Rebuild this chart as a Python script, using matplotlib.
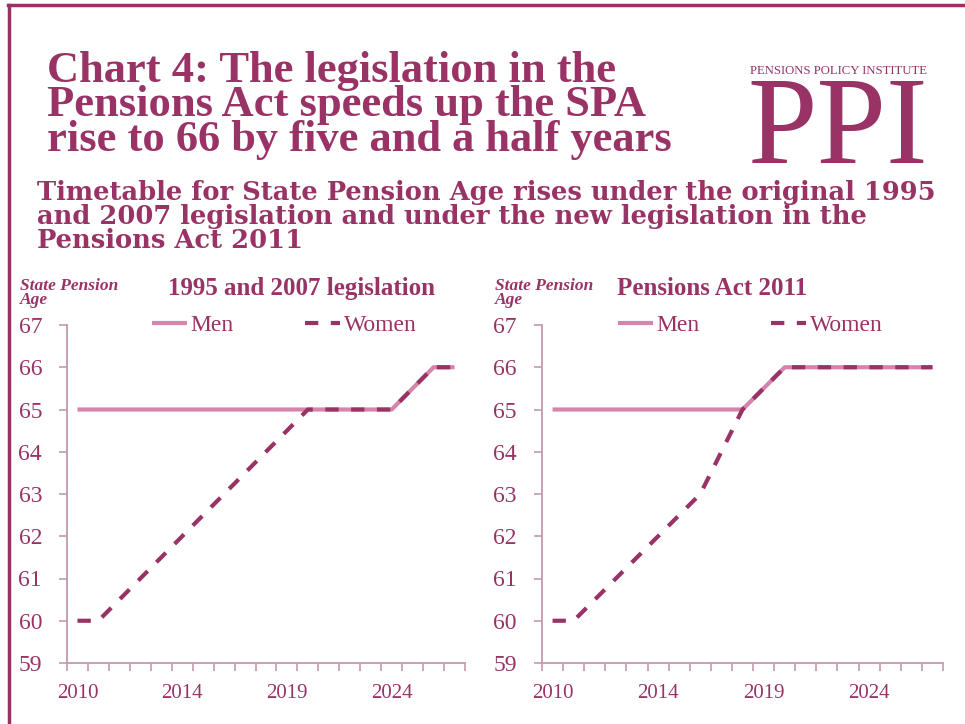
import numpy as np
import matplotlib
matplotlib.use("Agg")
import matplotlib.pyplot as plt
from matplotlib.lines import Line2D

# category axis (Excel-style line chart, 19 points, label every 5th)
x_labels = ['2010', '', '', '', '', '2014', '', '', '', '', '2019', '', '', '', '', '2024', '', '', '']

# 1995 and 2007 legislation
old_men = [65, 65, 65, 65, 65, 65, 65, 65, 65, 65, 65, 65, 65, 65, 65, 65, 65.5, 66, 66]
old_women = [60, 60, 60.5, 61, 61.5, 62, 62.5, 63, 63.5, 64, 64.5, 65, 65, 65, 65, 65, 65.5, 66, 66]

# Pensions Act 2011
new_men = [65, 65, 65, 65, 65, 65, 65, 65, 65, 65, 65.5, 66, 66, 66, 66, 66, 66, 66, 66]
new_women = [60, 60, 60.5, 61, 61.5, 62, 62.5, 63, 64, 65, 65.5, 66, 66, 66, 66, 66, 66, 66, 66]

panel_titles = ['1995 and 2007 legislation', 'Pensions Act 2011']
y_ticks = [59, 60, 61, 62, 63, 64, 65, 66, 67]

MAROON = '#993366'
PINK = '#D684AC'
AXIS = '#C29AAE'
SERIF = 'Liberation Serif'

fig = plt.figure(figsize=(9.65, 7.24), dpi=100)
W, H = 965.0, 724.0

# frame lines (top and left)
fig.add_artist(Line2D([8 / W, 1], [1 - 5 / H, 1 - 5 / H], color=MAROON, lw=2.5))
fig.add_artist(Line2D([9 / W, 9 / W], [0, 1 - 5 / H], color=MAROON, lw=2.5))

title = ('Chart 4: The legislation in the\n'
         'Pensions Act speeds up the SPA\n'
         'rise to 66 by five and a half years')
fig.text(47 / W, 1 - 151 / H, title, fontsize=32, fontweight='bold', family=SERIF,
         color=MAROON, va='baseline', ha='left', linespacing=0.83)

subtitle = ('Timetable for State Pension Age rises under the original 1995\n'
            'and 2007 legislation and under the new legislation in the\n'
            'Pensions Act 2011')
fig.text(37 / W, 1 - 248 / H, subtitle, fontsize=18.5, fontweight='bold',
         family='DejaVu Serif', color=MAROON, va='baseline', ha='left', linespacing=0.94)

# PPI logo
fig.text(838 / W, 1 - 74 / H, 'PENSIONS POLICY INSTITUTE', fontsize=9.2, family=SERIF,
         color=MAROON, ha='center', va='baseline')
fig.text(838 / W, 1 - 163 / H, 'PPI', fontsize=90, family=SERIF,
         color=MAROON, ha='center', va='baseline')

panels = [
    (67, 465, old_men, old_women, panel_titles[0], 301, 20, 284),
    (542, 943, new_men, new_women, panel_titles[1], 712, 495, 750),
]

for left, right, men, women, ptitle, tx, ylx, legx in panels:
    ax = fig.add_axes([left / W, 1 - 663 / H, (right - left) / W, (663 - 325) / H])
    x = np.arange(len(x_labels))
    ax.plot(x, men, color=PINK, lw=3, label='Men', solid_capstyle='butt')
    ax.plot(x, women, color=MAROON, lw=3, label='Women', dashes=(3.2, 3.0),
            dash_capstyle='butt')
    ax.set_xlim(-0.5, len(x_labels) - 0.5)
    ax.set_ylim(59, 67)
    ax.set_yticks(y_ticks)
    ax.set_xticks(np.arange(len(x_labels) + 1) - 0.5, labels=[])
    ax.set_xticks(x, x_labels, minor=True)
    for s in ['top', 'right']:
        ax.spines[s].set_visible(False)
    for s in ['left', 'bottom']:
        ax.spines[s].set_color(AXIS)
        ax.spines[s].set_linewidth(1.3)
    ax.tick_params(axis='y', colors=AXIS, length=6, width=1.2, pad=12,
                   labelcolor=MAROON, labelsize=17)
    ax.tick_params(axis='x', which='major', colors=AXIS, length=6, width=1.2)
    ax.tick_params(axis='x', which='minor', length=0, pad=15,
                   labelcolor=MAROON, labelsize=15)
    for lab in ax.get_xticklabels(minor=True) + ax.get_yticklabels():
        lab.set_family(SERIF)

    fig.text(tx / W, 1 - 295 / H, ptitle, fontsize=18, fontweight='bold',
             family=SERIF, color=MAROON, ha='center', va='baseline')
    fig.text(ylx / W, 1 - 304 / H, 'State Pension\nAge', fontsize=12.5,
             fontweight='bold', style='italic', family=SERIF, color=MAROON,
             ha='left', va='baseline', linespacing=0.8)

    leg = ax.legend(loc='center', bbox_to_anchor=((legx - left) / (right - left), 1.0),
                    ncol=2, frameon=False, handlelength=1.5, handletextpad=0.15,
                    columnspacing=3.0, prop={'family': SERIF, 'size': 17})
    for t in leg.get_texts():
        t.set_color(MAROON)

fig.savefig('out.png', dpi=100)
